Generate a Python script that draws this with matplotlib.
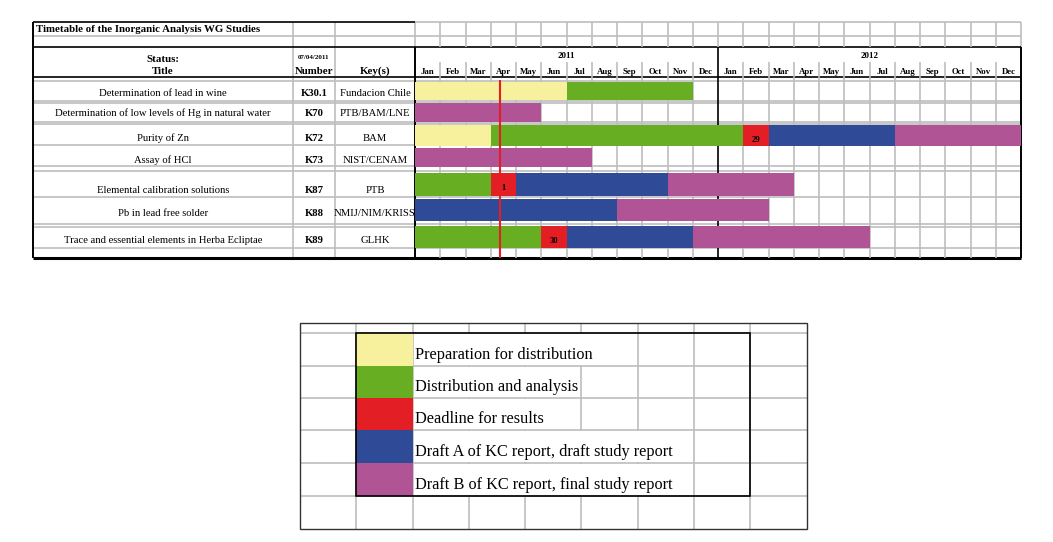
import matplotlib
matplotlib.use("Agg")
import matplotlib.pyplot as plt
from matplotlib.patches import Rectangle

# ---------------- data ----------------
table_title = "Timetable of the Inorganic Analysis WG Studies"
status_date = "07/04/2011"
titles = ["Determination of lead in wine",
          "Determination of low levels of Hg in natural water",
          "Purity of Zn",
          "Assay of HCl",
          "Elemental calibration solutions",
          "Pb in lead free solder",
          "Trace and essential elements in Herba Ecliptae"]
numbers = ["K30.1", "K70", "K72", "K73", "K87", "K88", "K89"]
keys = ["Fundacion Chile", "PTB/BAM/LNE", "BAM", "NIST/CENAM", "PTB",
        "NMIJ/NIM/KRISS", "GLHK"]
years = ["2011", "2012"]
months = ["Jan", "Feb", "Mar", "Apr", "May", "Jun",
          "Jul", "Aug", "Sep", "Oct", "Nov", "Dec"]
phases = ["Preparation for distribution",
          "Distribution and analysis",
          "Deadline for results",
          "Draft A of KC report, draft study report",
          "Draft B of KC report, final study report"]

# one entry per bar: study row, phase, start/end in months from Jan 2011
bar_row = [0, 0, 1, 2, 2, 2, 2, 2, 3, 4, 4, 4, 4, 5, 5, 6, 6, 6, 6]
bar_phase = [0, 1, 4, 0, 1, 2, 3, 4, 4, 1, 2, 3, 4, 3, 4, 1, 2, 3, 4]
bar_start = [0, 6, 0, 0, 3, 13, 14, 19, 0, 0, 3, 4, 10, 0, 8, 0, 5, 6, 11]
bar_end = [6, 11, 5, 3, 13, 14, 19, 24, 7, 3, 4, 10, 15, 8, 14, 5, 6, 11, 18]
deadline_day = ["", "", "29", "", "1", "", "30"]
status_month = 3.35  # red "today" line

# ---------------- style / layout ----------------
phase_colors = ["#F7F09C", "#67AE23", "#E31E25", "#2F4A97", "#B05496"]
GRID = "#BEBEBE"
plt.rcParams["font.family"] = ["Liberation Serif", "DejaVu Serif"]

W, H = 1053, 542
X0, X_TITLE, X_NUM, X_GANTT, X1 = 33, 293, 335, 415, 1021
row_top = [82, 103, 125, 148, 173, 199, 226]
row_bot = [100, 122, 146, 167, 196, 221, 248]
text_base = [96, 116.5, 141, 163, 193, 216.5, 243]
hlines_gray = [36, 81, 101, 103, 122, 124, 145, 166, 171, 197, 224, 227, 248]

fig = plt.figure(figsize=(W / 100, H / 100), dpi=100)
ax = fig.add_axes([0, 0, 1, 1])
ax.set_xlim(0, W)
ax.set_ylim(H, 0)
ax.axis("off")

gx = fig.add_axes([X_GANTT / W, 0, (X1 - X_GANTT) / W, 1])
gx.set_xlim(0, 24)
gx.set_ylim(H, 0)
gx.axis("off")
gx.patch.set_visible(False)

# ---------- main table grid ----------
ax.hlines(hlines_gray, X0, X1, color=GRID, lw=1.2, zorder=1)
ax.hlines([22], X0, X_GANTT, color="black", lw=1.2, zorder=3)
ax.hlines([22], X_GANTT, X1, color=GRID, lw=1.2, zorder=1)
ax.hlines([47, 77], X0, X1, color="black", lw=1.2, zorder=3)
ax.hlines([258], X0, X1, color="black", lw=2.2, zorder=3)
ax.vlines([X0], 22, 258, color="black", lw=1.4, zorder=3)
ax.vlines([X_TITLE, X_NUM], 22, 258, color=GRID, lw=1.2, zorder=1)
ax.vlines([X_GANTT, X1], 22, 47, color=GRID, lw=1.2, zorder=1)
ax.vlines([X_GANTT, X1], 47, 258, color="black", lw=1.4, zorder=3)

# month grid inside the gantt axes
inner = [m for m in range(1, 24) if m != 12]
gx.vlines(inner + [12], 22, 47, color=GRID, lw=1.2, zorder=1)
gx.vlines(inner, 62, 258, color=GRID, lw=1.2, zorder=1)
gx.vlines([12], 47, 258, color="black", lw=1.2, zorder=1.5)

# ---------- bars ----------
for r, p, s, e in zip(bar_row, bar_phase, bar_start, bar_end):
    gx.barh((row_top[r] + row_bot[r]) / 2, e - s, left=s,
            height=row_bot[r] - row_top[r], color=phase_colors[p],
            edgecolor="none", zorder=2)
    if p == 2 and deadline_day[r]:
        gx.text((s + e) / 2, (row_top[r] + row_bot[r]) / 2 + 4, deadline_day[r],
                ha="center", va="center", fontsize=6.2, fontweight="bold",
                zorder=5)
gx.vlines([status_month], 80, 258, color="#E31E25", lw=1.5, zorder=4)

# ---------- header text ----------
ax.text(X0 + 3, 32, table_title, fontsize=7.8, fontweight="bold", va="baseline")
cx_title = (X0 + X_TITLE) / 2
cx_num = (X_TITLE + X_NUM) / 2
cx_key = (X_NUM + X_GANTT) / 2
ax.text(cx_title, 61.5, "Status:", fontsize=7.8, fontweight="bold",
        ha="center", va="baseline")
ax.text(cx_title, 73.5, "Title", fontsize=7.8, fontweight="bold",
        ha="center", va="baseline")
ax.text(cx_num, 59, status_date, fontsize=5, fontweight="bold",
        ha="center", va="baseline")
ax.text(cx_num, 73.5, "Number", fontsize=7.8, fontweight="bold",
        ha="center", va="baseline")
ax.text(cx_key, 73.5, "Key(s)", fontsize=7.8, fontweight="bold",
        ha="center", va="baseline")
for i, y in enumerate(years):
    gx.text(12 * i + 6, 58, y, fontsize=6.5, fontweight="bold",
            ha="center", va="baseline")
    for j, m in enumerate(months):
        gx.text(12 * i + j + 0.5, 74, m, fontsize=6.3, fontweight="bold",
                ha="center", va="baseline")

for i in range(len(titles)):
    ax.text(cx_title, text_base[i], titles[i], fontsize=7.7,
            ha="center", va="baseline")
    ax.text(cx_num, text_base[i], numbers[i], fontsize=7.7, fontweight="bold",
            ha="center", va="baseline")
    ax.text(cx_key, text_base[i], keys[i], fontsize=7.7,
            ha="center", va="baseline")

# ---------- legend table ----------
lx = [300, 356, 413, 469, 525, 581, 638, 694, 750, 807]
ly = [323, 333, 366, 398, 430, 463, 496, 529]
ax.vlines(lx[1:-1], ly[0], ly[-1], color=GRID, lw=1.2, zorder=1)
ax.hlines(ly[1:-1], lx[0], lx[-1], color=GRID, lw=1.2, zorder=1)
ax.add_patch(Rectangle((lx[0], ly[0]), lx[-1] - lx[0], ly[-1] - ly[0],
                       fill=False, edgecolor="#333333", lw=1.0, zorder=3))
ax.add_patch(Rectangle((lx[1], ly[1]), lx[8] - lx[1], ly[6] - ly[1],
                       fill=False, edgecolor="black", lw=1.2, zorder=3))
legend_texts = []
for k, name in enumerate(phases):
    ax.add_patch(Rectangle((lx[1], ly[k + 1]), lx[2] - lx[1],
                           ly[k + 2] - ly[k + 1], color=phase_colors[k],
                           lw=0, zorder=2))
    legend_texts.append(ax.text(lx[2] + 2, ly[k + 2] - 7, name,
                                fontsize=11.7, va="baseline", zorder=5))

# text overflowing into neighbouring cells hides their grid lines
fig.canvas.draw()
inv = ax.transData.inverted()
for k, t in enumerate(legend_texts):
    bb = t.get_window_extent()
    right = inv.transform((bb.x1, bb.y1))[0]
    stop = min(x for x in lx if x > right)
    ax.add_patch(Rectangle((lx[2] + 1, ly[k + 1] + 1), stop - lx[2] - 2,
                           ly[k + 2] - ly[k + 1] - 2, color="white",
                           lw=0, zorder=1.5))

fig.savefig("out.png", dpi=100)
